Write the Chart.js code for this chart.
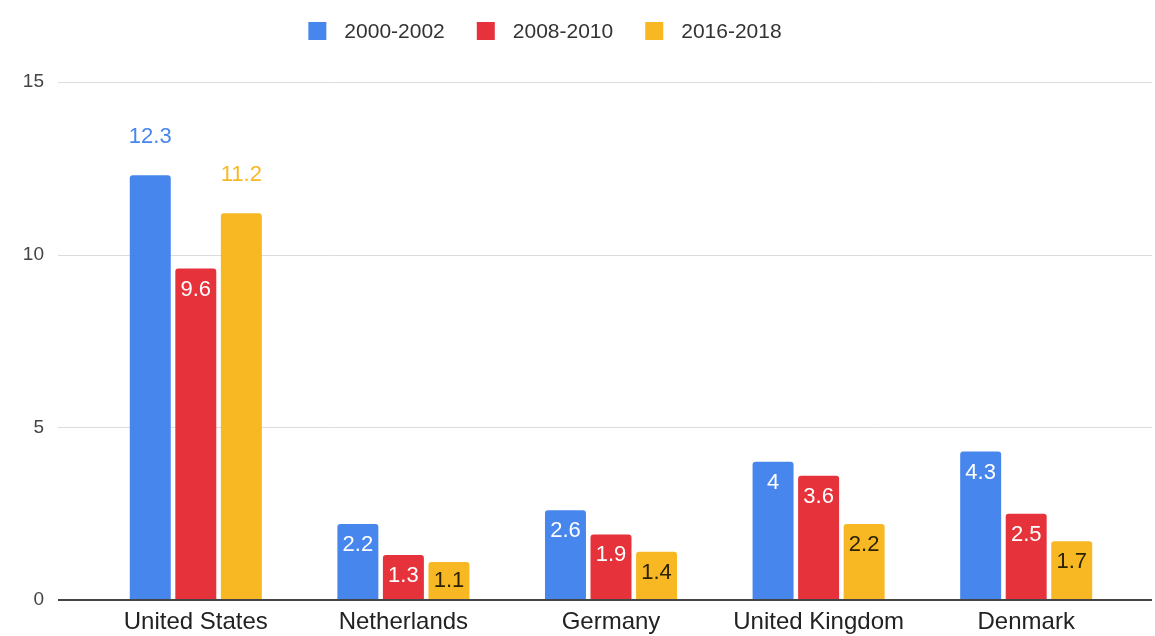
<!DOCTYPE html>
<html>
<head>
<meta charset="utf-8">
<script src="https://cdn.jsdelivr.net/npm/chart.js@4.4.1/dist/chart.umd.min.js"></script>
<style>
  html, body { margin: 0; padding: 0; background: #fff; }
  #wrap { width: 1155px; height: 636px; }
</style>
</head>
<body>
<div id="wrap"><canvas id="chart" width="1155" height="636"></canvas></div>
<script>
// Chart values.
var countries = ['United States', 'Netherlands', 'Germany', 'United Kingdom', 'Denmark'];
var periods = ['2000-2002', '2008-2010', '2016-2018'];
var values2000 = [12.3, 2.2, 2.6, 4, 4.3];
var values2008 = [9.6, 1.3, 1.9, 3.6, 2.5];
var values2016 = [11.2, 1.1, 1.4, 2.2, 1.7];
var yTicks = [0, 5, 10, 15];

var colors = ['#4786EC', '#E6323A', '#F8B824'];
var innerText = ['#ffffff', '#ffffff', '#2b2200'];
var FONT = '"Liberation Sans", Arial, sans-serif';

// Horizontal gridlines, a bit wider than the plot area.
var gridLines = {
  id: 'gridLines',
  beforeDatasetsDraw: function (chart) {
    var ctx = chart.ctx, area = chart.chartArea, y = chart.scales.y;
    ctx.save();
    ctx.strokeStyle = '#dcdcdc';
    ctx.lineWidth = 1;
    yTicks.forEach(function (t) {
      if (t === 0) return;
      var py = Math.round(y.getPixelForValue(t)) + 0.5;
      ctx.beginPath();
      ctx.moveTo(area.left - 34, py);
      ctx.lineTo(area.right + 22, py);
      ctx.stroke();
    });
    ctx.restore();
  },
  afterDatasetsDraw: function (chart) {
    var ctx = chart.ctx, area = chart.chartArea, y = chart.scales.y;
    var py = y.getPixelForValue(0);
    ctx.save();
    ctx.strokeStyle = '#444';
    ctx.lineWidth = 2;
    ctx.beginPath();
    ctx.moveTo(area.left - 34, py);
    ctx.lineTo(area.right + 22, py);
    ctx.stroke();
    ctx.restore();
  }
};

// Value labels on the bars.
var barLabels = {
  id: 'barLabels',
  afterDatasetsDraw: function (chart) {
    var ctx = chart.ctx;
    ctx.save();
    ctx.font = '22px ' + FONT;
    ctx.textAlign = 'center';
    ctx.textBaseline = 'middle';
    chart.data.datasets.forEach(function (ds, i) {
      chart.getDatasetMeta(i).data.forEach(function (bar, j) {
        var v = ds.data[j];
        var h = bar.base - bar.y;
        if (v > 10) {
          ctx.fillStyle = colors[i];
          ctx.fillText(String(v), bar.x, bar.y - 38);
        } else {
          ctx.fillStyle = innerText[i];
          ctx.fillText(String(v), bar.x, bar.y + Math.min(21, h / 2));
        }
      });
    });
    ctx.restore();
  }
};

// Legend row at the top.
var topLegend = {
  id: 'topLegend',
  afterDraw: function (chart) {
    var ctx = chart.ctx;
    var box = 18, textGap = 36, itemGap = 32, cy = 31, centerX = 545;
    ctx.save();
    ctx.font = '21px ' + FONT;
    ctx.textBaseline = 'middle';
    ctx.textAlign = 'left';
    var widths = chart.data.datasets.map(function (ds) {
      return textGap + ctx.measureText(ds.label).width;
    });
    var total = widths.reduce(function (a, b) { return a + b; }, 0) + itemGap * (widths.length - 1);
    var x = centerX - total / 2;
    chart.data.datasets.forEach(function (ds, i) {
      ctx.fillStyle = ds.backgroundColor;
      ctx.fillRect(x, cy - box / 2, box, box);
      ctx.fillStyle = '#333';
      ctx.fillText(ds.label, x + textGap, cy + 1);
      x += widths[i] + itemGap;
    });
    ctx.restore();
  }
};

var series = [values2000, values2008, values2016];

new Chart(document.getElementById('chart'), {
  type: 'bar',
  data: {
    labels: countries,
    datasets: series.map(function (vals, i) {
      return {
        label: periods[i],
        data: vals,
        backgroundColor: colors[i],
        borderRadius: 3,
        categoryPercentage: 0.658,
        barPercentage: 0.9
      };
    })
  },
  options: {
    responsive: false,
    devicePixelRatio: 1,
    animation: false,
    layout: { padding: { top: 82, right: 25, bottom: 2, left: 0 } },
    plugins: {
      legend: { display: false },
      tooltip: { enabled: false }
    },
    scales: {
      x: {
        grid: { display: false, drawTicks: false },
        border: { display: false },
        afterFit: function (scale) { scale.height = 34; },
        ticks: {
          color: '#222',
          font: { family: FONT, size: 24, lineHeight: 1 },
          padding: 10,
          maxRotation: 0,
          autoSkip: false
        }
      },
      y: {
        min: 0,
        max: 15,
        afterBuildTicks: function (scale) {
          scale.ticks = yTicks.map(function (v) { return { value: v }; });
        },
        afterFit: function (scale) {
          // big label gap should not push the plot area up
          scale.width = 92;
          scale.paddingTop = 12;
          scale.paddingBottom = 12;
        },
        grid: { display: false, drawTicks: false },
        border: { display: false },
        ticks: {
          color: '#444',
          font: { family: FONT, size: 19 },
          padding: 48
        }
      }
    }
  },
  plugins: [gridLines, barLabels, topLegend]
});
</script>
</body>
</html>
